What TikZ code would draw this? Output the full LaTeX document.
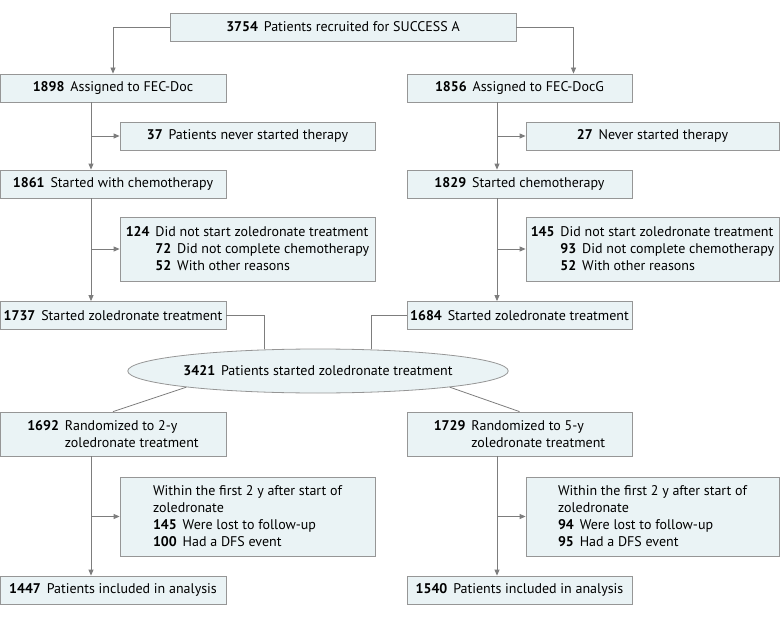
\documentclass[tikz,border=0pt]{standalone}
\usepackage{fontspec}
\setmainfont{PT Sans}
\usepackage{tikz}
\usetikzlibrary{shapes.geometric, arrows.meta, positioning}
\definecolor{boxfill}{RGB}{234,243,245}
\definecolor{boxline}{RGB}{150,150,150}
\definecolor{linkgray}{RGB}{125,125,125}
\newcommand{\pcount}[1]{\textbf{#1}\hspace{0.42em}}

\begin{document}
\begin{tikzpicture}[
    x=1pt, y=-1pt,
    font=\fontsize{14}{17}\selectfont,
    std/.style={rectangle, draw=boxline, line width=0.8pt, fill=boxfill,
                minimum width=#1, minimum height=28pt, inner sep=0pt, align=center},
    std/.default=226pt,
    side/.style={std=#1, align=left},
    link/.style={draw=linkgray, line width=0.8pt},
    arr/.style={link, -{Triangle[length=6pt,width=5pt]}}
]
    \useasboundingbox (0,0) rectangle (780,618);

    % recruitment
    \node[std=346pt] (top) at (343,27) {\pcount{3754}Patients recruited for SUCCESS A};

    % FEC-Doc arm
    \node[std] (fec) at (113,88) {\pcount{1898}Assigned to FEC-Doc};
    \node[std=255pt] (nst) at (247.5,136) {\pcount{37}Patients never started therapy};
    \node[std] (chemo) at (113,184) {\pcount{1861}Started with chemotherapy};
    \node[side=255pt, minimum height=64pt] (nzl) at (247.5,249) {
        \pcount{124}Did not start zoledronate treatment\\
        \phantom{\pcount{124}}\pcount{72}Did not complete chemotherapy\\
        \phantom{\pcount{124}}\pcount{52}With other reasons
    };
    \node[std] (zl) at (113,315.5) {\pcount{1737}Started zoledronate treatment};

    % FEC-DocG arm
    \node[std=225pt] (fecg) at (519.5,88) {\pcount{1856}Assigned to FEC-DocG};
    \node[std=253pt] (nstg) at (652.5,136) {\pcount{27}Never started therapy};
    \node[std=225pt] (chemog) at (519.5,184) {\pcount{1829}Started chemotherapy};
    \node[side=253pt, minimum height=64pt] (nzlg) at (652.5,249) {
        \pcount{145}Did not start zoledronate treatment\\
        \phantom{\pcount{145}}\pcount{93}Did not complete chemotherapy\\
        \phantom{\pcount{145}}\pcount{52}With other reasons
    };
    \node[std=225pt] (zlg) at (519.5,315.5) {\pcount{1684}Started zoledronate treatment};

    % pooled
    \node[ellipse, draw=boxline, line width=0.8pt, fill=boxfill, minimum width=324pt,
          minimum height=44pt, inner sep=0pt] (ell) at (318,371)
          {\pcount{3421}Patients started zoledronate treatment};

    % 2-y arm
    \node[side, minimum height=44pt] (r2) at (113,434) {
        \pcount{1692}Randomized to 2-y\\
        \phantom{\pcount{1692}}zoledronate treatment
    };
    \node[side=255pt, minimum height=79pt] (lost) at (247.5,516.5) {
        Within the first 2 y after start of\\
        zoledronate\\
        \pcount{145}Were lost to follow-up\\
        \pcount{100}Had a DFS event
    };
    \node[std] (inc) at (113,590) {\pcount{1447}Patients included in analysis};

    % 5-y arm
    \node[side=225pt, minimum height=44pt] (r5) at (519.5,434) {
        \pcount{1729}Randomized to 5-y\\
        \phantom{\pcount{1729}}zoledronate treatment
    };
    \node[side=253pt, minimum height=79pt] (lostg) at (652.5,516.5) {
        Within the first 2 y after start of\\
        zoledronate\\
        \pcount{94}Were lost to follow-up\\
        \pcount{95}Had a DFS event
    };
    \node[std=225pt] (incg) at (519.5,590) {\pcount{1540}Patients included in analysis};

    % spines
    \coordinate (lx) at (91,0);
    \coordinate (rx) at (497,0);

    % connectors
    \draw[arr] (top.west) -| (fec.north);
    \draw[arr] (top.east) -| ([xshift=54pt]fecg.north);

    \draw[arr] (fec.south -| lx) -- (chemo.north -| lx);
    \draw[arr] (nst.west -| lx) -- (nst.west);
    \draw[arr] (chemo.south -| lx) -- (zl.north -| lx);
    \draw[arr] (nzl.west -| lx) -- (nzl.west);

    \draw[arr] (fecg.south -| rx) -- (chemog.north -| rx);
    \draw[arr] (nstg.west -| rx) -- (nstg.west);
    \draw[arr] (chemog.south -| rx) -- (zlg.north -| rx);
    \draw[arr] (nzlg.west -| rx) -- (nzlg.west);

    \draw[link] (zl.east) -| (ell.158);
    \draw[link] (zlg.west) -| (ell.22);
    \draw[link] (ell.187) -- (r2.north);
    \draw[link] (ell.353) -- (r5.north);

    \draw[arr] (r2.south -| lx) -- (inc.north -| lx);
    \draw[arr] (lost.west -| lx) -- (lost.west);
    \draw[arr] (r5.south -| rx) -- (incg.north -| rx);
    \draw[arr] (lostg.west -| rx) -- (lostg.west);
\end{tikzpicture}
\end{document}
